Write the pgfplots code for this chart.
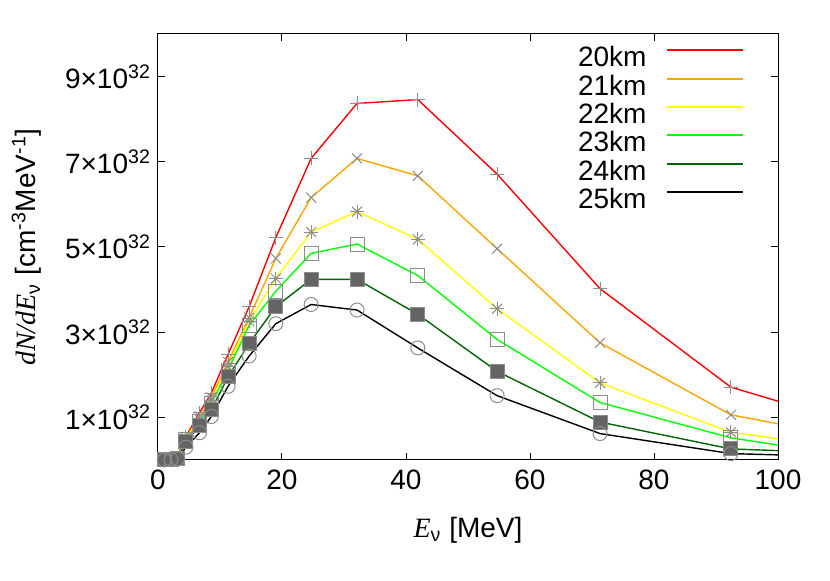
\documentclass[border=0pt]{standalone}
\usepackage{pgfplots}
\pgfplotsset{compat=1.18}
\usepackage{pgfplotstable}
\usepackage{fontspec}
\setmainfont{Liberation Sans}
\newfontfamily\serifit{Liberation Serif}
\definecolor{colA}{RGB}{255,0,0}
\definecolor{colB}{RGB}{255,165,0}
\definecolor{colC}{RGB}{255,255,0}
\definecolor{colD}{RGB}{0,255,0}
\definecolor{colE}{RGB}{0,100,0}
\definecolor{colF}{RGB}{0,0,0}
\definecolor{mgray}{RGB}{140,140,140}
\definecolor{fgray}{RGB}{100,100,100}
\pgfplotstableread{
E     a     b     c     d     e     f
1.0   0.00  0.00  0.00  0.00  0.00  0.00
2.1   0.01  0.01  0.01  0.01  0.01  0.01
3.2   0.05  0.05  0.05  0.04  0.04  0.03
4.5   0.55  0.52  0.50  0.47  0.44  0.30
6.7   1.11  1.02  0.96  0.90  0.80  0.64
8.6   1.57  1.47  1.40  1.32  1.18  1.02
11.3  2.48  2.30  2.20  2.11  1.95  1.73
14.7  3.60  3.34  3.26  3.16  2.73  2.44
19.0  5.22  4.73  4.26  3.96  3.60  3.20
24.7  7.08  6.16  5.35  4.85  4.24  3.65
32.1  8.37  7.08  5.83  5.07  4.24  3.52
41.9  8.46  6.67  5.18  4.33  3.42  2.63
54.7  6.71  4.96  3.55  2.83  2.08  1.51
71.3  4.02  2.75  1.81  1.35  0.89  0.62
92.4  1.71  1.06  0.65  0.52  0.26  0.15
100.0 1.38  0.85  0.50  0.35  0.22  0.12
}\data
\begin{document}
\begin{tikzpicture}
\begin{axis}[
  at={(0,0)}, anchor=south west,
  scale only axis, width=310pt, height=213pt,
  xmin=0, xmax=100, ymin=0, ymax=10,
  xtick={0,20,40,60,80,100},
  ytick={1,3,5,7,9},
  yticklabels={1×10\textsuperscript{32},3×10\textsuperscript{32},5×10\textsuperscript{32},7×10\textsuperscript{32},9×10\textsuperscript{32}},
  /pgf/number format/assume math mode=true,
  tick align=inside, major tick length=3.5pt,
  axis line style={line width=0.5pt},
  every tick/.style={black, line width=0.5pt},
  tick label style={font=\fontsize{14}{16}\selectfont},
  xticklabel style={yshift=-1.2pt},
  label style={font=\fontsize{14}{16}\selectfont},
  xlabel={{\serifit\itshape E}\textsubscript{ν} [MeV]},
  ylabel={{\serifit\itshape dN/dE}\textsubscript{ν} [cm\textsuperscript{-3}MeV\textsuperscript{-1}]},
  xlabel style={at={(axis description cs:0.5,-0.164)}, anchor=center},
  ylabel style={at={(axis description cs:-0.212,0.5)}, anchor=center},
  legend style={draw=none, fill=none, at={(0.945,0.972)}, anchor=north east,
    font=\fontsize{14}{16}\selectfont, inner sep=0pt, row sep=0pt,
    nodes={inner sep=0pt, text height=10.3pt, text depth=3.85pt},
    column sep=9.5pt},
  legend plot pos=right,
  legend cell align=right,
  legend image code/.code={\draw[#1, line width=1pt] (0pt,5pt) -- (38pt,5pt);},
]
% marks
\addplot[only marks, mark=+, mark size=3.5pt, mgray, line width=0.5pt, forget plot, skip coords between index={15}{16}] table[x=E,y=a] {\data};
\addplot[only marks, mark=x, mark size=3.5pt, mgray, line width=0.5pt, forget plot, skip coords between index={15}{16}] table[x=E,y=b] {\data};
\addplot[only marks, mark=+, mark size=3.5pt, mgray, line width=0.5pt, forget plot, skip coords between index={15}{16}] table[x=E,y=c] {\data};
\addplot[only marks, mark=x, mark size=3.5pt, mgray, line width=0.5pt, forget plot, skip coords between index={15}{16}] table[x=E,y=c] {\data};
\addplot[only marks, mark=square, mark size=3.5pt, mgray, line width=0.5pt, forget plot, skip coords between index={15}{16}] table[x=E,y=d] {\data};
\addplot[only marks, mark=square*, mark size=3.5pt, draw=mgray, fill=fgray, line width=0.5pt, forget plot, skip coords between index={15}{16}] table[x=E,y=e] {\data};
\addplot[only marks, mark=o, mark size=3.5pt, mgray, line width=0.5pt, forget plot, skip coords between index={15}{16}] table[x=E,y=f] {\data};
% lines
\addplot[draw=colA, line width=0.7pt, no marks] table[x=E,y=a] {\data};
\addlegendentry{20km}
\addplot[draw=colB, line width=0.7pt, no marks] table[x=E,y=b] {\data};
\addlegendentry{21km}
\addplot[draw=colC, line width=0.7pt, no marks] table[x=E,y=c] {\data};
\addlegendentry{22km}
\addplot[draw=colD, line width=0.7pt, no marks] table[x=E,y=d] {\data};
\addlegendentry{23km}
\addplot[draw=colE, line width=0.7pt, no marks] table[x=E,y=e] {\data};
\addlegendentry{24km}
\addplot[draw=colF, line width=0.7pt, no marks] table[x=E,y=f] {\data};
\addlegendentry{25km}
\end{axis}
\pgfresetboundingbox
\path (-79pt,-60.5pt) rectangle (336pt,230pt);
\end{tikzpicture}
\end{document}
